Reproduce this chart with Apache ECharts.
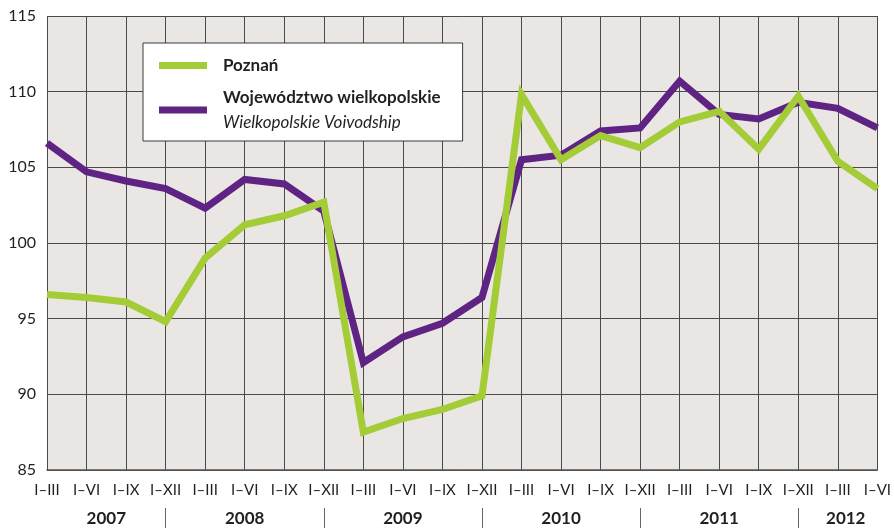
<!DOCTYPE html>
<html>
<head>
<meta charset="utf-8">
<script src="https://cdn.jsdelivr.net/npm/echarts@6/dist/echarts.min.js"></script>
<style>
  html, body { margin: 0; padding: 0; background: #fff; }
  #chart { width: 894px; height: 528px; }
</style>
</head>
<body>
<div id="chart"></div>
<script>
// okresy narastające (kategorie osi X)
const quarters = ['I–III', 'I–VI', 'I–IX', 'I–XII', 'I–III', 'I–VI', 'I–IX', 'I–XII',
  'I–III', 'I–VI', 'I–IX', 'I–XII', 'I–III', 'I–VI', 'I–IX', 'I–XII',
  'I–III', 'I–VI', 'I–IX', 'I–XII', 'I–III', 'I–VI'];
const years = ['2007', '2008', '2009', '2010', '2011', '2012'];

// wartości serii
const poznan = [96.6, 96.4, 96.1, 94.8, 99.0, 101.2, 101.8, 102.7,
  87.5, 88.4, 89.0, 89.9, 109.8, 105.5, 107.1, 106.3,
  108.0, 108.7, 106.2, 109.7, 105.4, 103.6];
const wojewodztwo = [106.6, 104.7, 104.1, 103.6, 102.3, 104.2, 103.9, 102.1,
  92.1, 93.8, 94.7, 96.4, 105.5, 105.8, 107.4, 107.6,
  110.7, 108.5, 108.2, 109.3, 108.9, 107.6];

const yTicks = [85, 90, 95, 100, 105, 110, 115];

/* ——— podział na lata ——— */
const separators = [];
quarters.forEach((q, i) => { if (q === 'I–XII' && i < quarters.length - 1) separators.push(i); });
const bounds = [0].concat(separators, [quarters.length - 1 + 0.4]);
const yearCenters = years.map((y, i) => (bounds[i] + bounds[i + 1]) / 2);

const FONT = 'Lato';
const chart = echarts.init(document.getElementById('chart'));

chart.setOption({
  animation: false,
  textStyle: { fontFamily: FONT },
  grid: {
    left: 47, right: 15, top: 16, bottom: 58,
    show: true, backgroundColor: '#e9e6e3', borderWidth: 0
  },
  legend: {
    orient: 'vertical',
    left: 143, top: 43,
    padding: [10, 22, 6, 16],
    itemGap: 7,
    backgroundColor: '#fff',
    borderColor: '#3a3a3a',
    borderWidth: 1,
    itemWidth: 48,
    itemHeight: 7,
    icon: 'rect',
    data: ['Poznań', 'Województwo wielkopolskie'],
    formatter: function (name) {
      if (name === 'Poznań') return '{b|Poznań}';
      return '{b|Województwo wielkopolskie}\n{i|Wielkopolskie Voivodship}';
    },
    textStyle: {
      padding: [0, 0, 0, 11],
      fontSize: 17,
      lineHeight: 25,
      rich: {
        b: { fontFamily: FONT, fontWeight: 'bold', fontSize: 17, color: '#231f20', lineHeight: 25 },
        i: { fontFamily: FONT, fontStyle: 'italic', fontSize: 17, color: '#231f20', lineHeight: 25 }
      }
    }
  },
  xAxis: [
    {
      type: 'category',
      data: quarters,
      boundaryGap: false,
      axisLine: { show: true, lineStyle: { color: '#555', width: 1.5 } },
      axisTick: { show: false },
      axisLabel: { interval: 0, margin: 13, fontSize: 15, color: '#231f20', fontFamily: FONT },
      splitLine: { show: true, interval: 0, lineStyle: { color: '#4a4a4a', width: 1 } }
    },
    {
      type: 'value',
      position: 'bottom',
      offset: 38,
      min: 0,
      max: quarters.length - 1,
      axisLine: { show: false },
      splitLine: { show: false },
      axisTick: {
        show: true, inside: false, length: 20,
        customValues: separators,
        lineStyle: { color: '#666', width: 1 }
      },
      axisLabel: {
        margin: 2,
        customValues: yearCenters,
        formatter: function (v) {
          const i = yearCenters.findIndex(c => Math.abs(c - v) < 1e-6);
          return i >= 0 ? years[i] : '';
        },
        fontSize: 17, fontWeight: 'bold', color: '#231f20', fontFamily: FONT
      }
    }
  ],
  yAxis: {
    type: 'value',
    min: yTicks[0],
    max: yTicks[yTicks.length - 1],
    interval: 5,
    axisLine: { show: false },
    axisTick: { show: false },
    axisLabel: { margin: 11, fontSize: 16, color: '#231f20', fontFamily: FONT },
    splitLine: { show: true, lineStyle: { color: '#4a4a4a', width: 1 } }
  },
  series: [
    {
      name: 'Poznań',
      type: 'line',
      data: poznan,
      symbol: 'none',
      z: 3,
      itemStyle: { color: '#a3cc37' },
      lineStyle: { color: '#a3cc37', width: 7, join: 'miter' }
    },
    {
      name: 'Województwo wielkopolskie',
      type: 'line',
      data: wojewodztwo,
      symbol: 'none',
      z: 2,
      itemStyle: { color: '#5f2384' },
      lineStyle: { color: '#5f2384', width: 7, join: 'miter' }
    }
  ]
});
</script>
</body>
</html>
